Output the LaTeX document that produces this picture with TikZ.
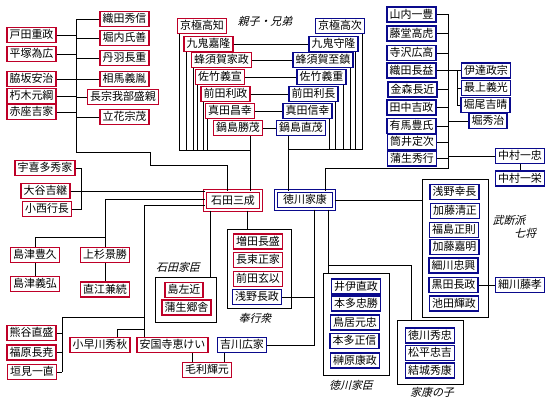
\documentclass[tikz,border=0pt]{standalone}
\usepackage{fontspec}
\newfontfamily\jp{Noto Sans CJK JP}
\newfontfamily\jpit{Noto Sans CJK JP}[FakeSlant=0.25]
\definecolor{rb}{RGB}{190,0,40}
\definecolor{bb}{RGB}{10,10,140}
\tikzset{
 nm/.style={line width=1.5bp, font=\jp\fontsize{11}{12}\selectfont, inner xsep=2.5bp, inner ysep=0pt, text height=9.5bp, text depth=2bp, minimum height=15bp},
 redbox/.style={nm, draw=rb},
 bluebox/.style={nm, draw=bb},
 dblred/.style={nm, draw=rb, line width=1bp, double=white, double distance=1.8bp, minimum width=56bp, minimum height=19bp},
 dblblue/.style={nm, draw=bb, line width=1bp, double=white, double distance=1.8bp, minimum width=58bp, minimum height=18bp},
 grp/.style={draw=black, line width=1bp, inner sep=0pt},
 lbl/.style={font=\jpit\fontsize{11}{12}\selectfont, inner sep=0pt},
 ln/.style={line width=1bp}
}
\begin{document}
\begin{tikzpicture}[x=1bp,y=-1bp]
\fill[white] (0,0) rectangle (553,404);
\useasboundingbox (0,0) rectangle (553,404);
% group boxes
\node[grp, minimum width=61bp, minimum height=45bp] (kashin) at (185.5,299.5) {};
\node[grp, minimum width=64bp, minimum height=79bp] (bugyo) at (259,268.5) {};
\node[grp, minimum width=66bp, minimum height=138bp] (budan) at (455,248) {};
\node[grp, minimum width=66bp, minimum height=102bp] (tkashin) at (356,324) {};
\node[grp, minimum width=66bp, minimum height=64bp] (kodomo) at (430,352) {};
% labels
\node[lbl] (lb1) at (265,21) {親子・兄弟};
\node[lbl] (lb2) at (178,267) {石田家臣};
\node[lbl] (lb3) at (255,318) {奉行衆};
\node[lbl] (lb4) at (509,220) {武断派};
\node[lbl] (lb5) at (525,233) {七将};
\node[lbl] (lb6) at (351,385) {徳川家臣};
\node[lbl] (lb7) at (432,392) {家康の子};
% main
\node[dblred] (ishida) at (233,200.5) {石田三成};
\node[dblblue] (tokugawa) at (305,200) {徳川家康};
% top-left
\node[redbox] (toda) at (31.5,35) {戸田重政};
\node[redbox] (hiratsuka) at (31.5,54) {平塚為広};
\node[redbox] (wakisaka) at (31.5,79) {脇坂安治};
\node[redbox] (kutsuki) at (31.5,96) {朽木元綱};
\node[redbox] (akaza) at (31.5,112) {赤座吉家};
\node[redbox] (odahide) at (124.5,19) {織田秀信};
\node[redbox] (horiuchi) at (124.5,38) {堀内氏善};
\node[redbox] (niwa) at (124.5,58) {丹羽長重};
\node[redbox] (soma) at (124.5,79) {相馬義胤};
\node[redbox] (chosokabe) at (123,97) {長宗我部盛親};
\node[redbox] (tachibana) at (124.5,117) {立花宗茂};
% brothers red
\node[redbox] (kt) at (202,26) {京極高知};
\node[redbox] (ky) at (208.5,44) {九鬼嘉隆};
\node[redbox] (hi) at (221.5,60) {蜂須賀家政};
\node[redbox] (sy) at (220,77) {佐竹義宣};
\node[redbox] (mt) at (225.5,94) {前田利政};
\node[redbox] (sm) at (230,111) {真田昌幸};
\node[redbox] (nk) at (238,128) {鍋島勝茂};
% brothers blue
\node[bluebox] (kj) at (340,26) {京極高次};
\node[bluebox] (km) at (333.5,44) {九鬼守隆};
\node[bluebox] (hy) at (323,60) {蜂須賀至鎮};
\node[bluebox] (ss) at (321.5,77) {佐竹義重};
\node[bluebox] (mn) at (313.5,94) {前田利長};
\node[bluebox] (sn) at (307.5,111) {真田信幸};
\node[bluebox] (nn) at (301,128) {鍋島直茂};
% right column
\node[bluebox] (yamauchi) at (411.5,14.5) {山内一豊};
\node[bluebox] (todo) at (411.5,33.5) {藤堂高虎};
\node[bluebox] (terasawa) at (411.5,53) {寺沢広高};
\node[bluebox] (odanaga) at (411.5,70.5) {織田長益};
\node[bluebox] (kanamori) at (412.5,89.5) {金森長近};
\node[bluebox] (tanaka) at (411.5,107.5) {田中吉政};
\node[bluebox] (arima) at (411.5,126) {有馬豊氏};
\node[bluebox] (tsutsui) at (412,142) {筒井定次};
\node[bluebox] (gamoh) at (412,158.5) {蒲生秀行};
\node[bluebox] (date) at (486,70.5) {伊達政宗};
\node[bluebox] (mogami) at (486,88) {最上義光};
\node[bluebox] (horio) at (485.5,105) {堀尾吉晴};
\node[bluebox] (horih) at (488,121) {堀秀治};
\node[bluebox] (nkt) at (520,156) {中村一忠};
\node[bluebox] (nkk) at (520,178.5) {中村一栄};
% left middle
\node[redbox] (ukita) at (45,168) {宇喜多秀家};
\node[redbox] (otani) at (45.5,191) {大谷吉継};
\node[redbox] (konishi) at (47,209) {小西行長};
\node[redbox] (shimt) at (35,255) {島津豊久};
\node[redbox] (shimy) at (35,284) {島津義弘};
\node[redbox] (uesugi) at (105,255) {上杉景勝};
\node[redbox] (naoe) at (105,289.5) {直江兼続};
% bottom left
\node[redbox] (kumagai) at (31.5,333) {熊谷直盛};
\node[redbox] (fukuhara) at (31.5,352.5) {福原長尭};
\node[redbox] (kakimi) at (32,372) {垣見一直};
\node[redbox] (kobaya) at (100,345) {小早川秀秋};
\node[redbox] (ankoku) at (172.5,345) {安国寺恵けい};
\node[bluebox] (kikkawa) at (242,345) {吉川広家};
\node[redbox] (mori) at (207,370) {毛利輝元};
% ishida kashin / bugyo
\node[redbox] (sakon) at (184,290) {島左近};
\node[redbox] (gamos) at (186.5,307.5) {蒲生郷舎};
\node[redbox] (mashita) at (258,241.5) {増田長盛};
\node[redbox] (natsuka) at (258,260) {長束正家};
\node[redbox] (maedag) at (258,279) {前田玄以};
\node[bluebox] (asanon) at (257,297) {浅野長政};
% budan
\node[bluebox] (asanoy) at (454.5,192) {浅野幸長};
\node[bluebox] (katok) at (455,211) {加藤清正};
\node[bluebox] (fukushima) at (454,230) {福島正則};
\node[bluebox] (katoy) at (454.5,247) {加藤嘉明};
\node[bluebox] (hosot) at (453.5,265.5) {細川忠興};
\node[bluebox] (kuroda) at (453.5,285) {黒田長政};
\node[bluebox] (ikeda) at (454,303.5) {池田輝政};
\node[bluebox] (hosof) at (520,285) {細川藤孝};
% tokugawa kashin
\node[bluebox] (ii) at (356,286.5) {井伊直政};
\node[bluebox] (hondat) at (356,303.5) {本多忠勝};
\node[bluebox] (torii) at (355,322.5) {鳥居元忠};
\node[bluebox] (hondam) at (354.5,341) {本多正信};
\node[bluebox] (sakaki) at (355,360.5) {榊原康政};
% children
\node[bluebox] (hidetada) at (430,335.5) {徳川秀忠};
\node[bluebox] (tadayoshi) at (430,353) {松平忠吉};
\node[bluebox] (hideyasu) at (430,370.5) {結城秀康};

% ---------- connectors ----------
\begin{scope}[ln]
% top-left group
\coordinate (L1) at (76,152);
\coordinate (L2) at (150,165);
\coordinate (i0) at ([xshift=-6bp]ishida.north);
\draw (odahide.west) -| (L1) -| (L2) -| (i0);
\foreach \n in {toda,hiratsuka,wakisaka,kutsuki,akaza}
  \draw (\n.east) -- (\n.east -| L1);
\foreach \n in {horiuchi,niwa,soma,chosokabe,tachibana}
  \draw (\n.west) -- (\n.west -| L1);
% brothers
\coordinate (rbus) at (250,150);
\foreach \n in {kt,ky,hi,sy,mt,sm}
  \draw ([xshift=3bp]\n.south west) |- (rbus);
\draw (nk.south -| rbus) -- (ishida.north -| rbus);
\coordinate (bbus) at (288,149);
\foreach \n in {kj,km,hy,ss,mn,sn}
  \draw ([xshift=-3bp]\n.south east) |- (bbus);
\draw (nn.south -| bbus) -- (tokugawa.north -| bbus);
\draw (ky.east) -- (km.west);
\draw (hi.east) -- (hy.west);
\draw (sy.east) -- (ss.west);
\draw (mt.east) -- (mn.west);
\draw (sm.east) -- (sn.west);
\draw (nk.east) -- (nn.west);
% right column
\coordinate (gbus) at (448,168);
\coordinate (t0) at ([xshift=20bp]tokugawa.north);
\draw (yamauchi.east) -| (gbus) -| (t0);
\foreach \n in {todo,terasawa,odanaga,kanamori,tanaka,arima,tsutsui,gamoh}
  \draw (\n.east) -- (\n.east -| gbus);
\coordinate (dbr) at (457,88);
\draw (date.west -| gbus) -- (date.west);
\draw (dbr |- date.west) -- (dbr |- horio.west) -- (horio.west);
\draw (dbr |- mogami.west) -- (mogami.west);
\draw (horih.west -| gbus) -- (horih.west);
\draw (nkt.west -| gbus) -- (nkt.west);
\draw (nkt.south) -- (nkk.north);
% left middle
\coordinate (ub) at (81,190);
\draw (ukita.east) -| (ub |- konishi.east) -- (konishi.east);
\draw (otani.east) -- (otani.east -| ishida.west);
\coordinate (j1) at (105,199);
\coordinate (j2) at (105,237);
\draw (ishida.west |- j1) -- (j1) -- (uesugi.north);
\draw (j2) -| (shimt.north);
\draw (shimt.south) -- (shimy.north);
\draw (uesugi.south) -- (naoe.north);
% bottom left
\coordinate (k1) at (144,205);
\coordinate (k2) at (144,317);
\coordinate (k3) at (144,329);
\coordinate (kb) at (62,317);
\draw (ishida.west |- k1) -- (k1) -- (k1 |- ankoku.north);
\draw (k2) -- (kb) -- (kb |- kakimi.east);
\foreach \n in {kumagai,fukuhara,kakimi}
  \draw (\n.east) -- (\n.east -| kb);
\coordinate (kob) at ([xshift=17bp]kobaya.north);
\draw (k3) -| (kob);
\coordinate (m1) at ([xshift=20bp]ankoku.south);
\coordinate (m2) at ([xshift=-18bp]kikkawa.south);
\draw (m1) -- (m1 |- mori.north);
\draw (m2) -- (m2 |- mori.north);
% ishida down
\coordinate (i1) at ([xshift=-23bp]ishida.south);
\coordinate (i2) at ([xshift=14bp]ishida.south);
\draw (i1) -- (i1 |- kashin.north);
\draw (i2) -- (i2 |- bugyo.north);
% tokugawa down / right
\coordinate (t1) at ([xshift=9bp]tokugawa.south);
\coordinate (t2) at ([xshift=23bp]tokugawa.south);
\coordinate (t3) at (411,265);
\draw (t1) |- (kikkawa.east);
\draw (asanon.east) -- (asanon.east -| t1);
\draw (t2) -- (t2 |- tkashin.north);
\draw (t2 |- t3) -- (t3) -- (t3 |- kodomo.north);
\draw (tokugawa.east) -- (tokugawa.east -| budan.west);
\draw (kuroda.east) -- (hosof.west);
\end{scope}
\end{tikzpicture}
\end{document}
